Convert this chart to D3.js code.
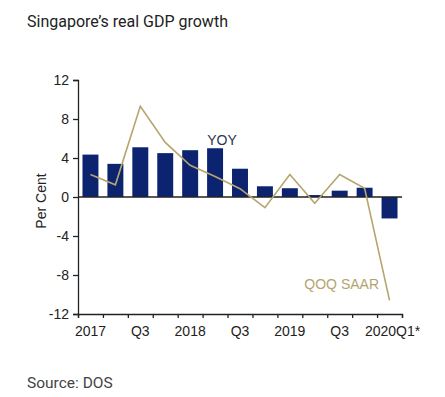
<!DOCTYPE html>
<html>
<head>
<meta charset="utf-8">
<script src="https://cdn.jsdelivr.net/npm/d3@7"></script>
<style>
  body { margin: 0; background: #fff; }
  svg { display: block; }
</style>
</head>
<body>
<div id="wrapper"></div>
<script>
// quarters 2017Q1 .. 2020Q1
const quarters = ["2017Q1","2017Q2","2017Q3","2017Q4","2018Q1","2018Q2","2018Q3","2018Q4","2019Q1","2019Q2","2019Q3","2019Q4","2020Q1"]
const tickLabels = ["2017","","Q3","","2018","","Q3","","2019","","Q3","","2020Q1*"]
const yoy = [4.35, 3.4, 5.1, 4.5, 4.8, 5.0, 2.9, 1.1, 0.9, 0.2, 0.65, 0.95, -2.2]
const qoqSaar = [2.3, 1.25, 9.3, 5.6, 3.25, 2.1, 0.85, -1.1, 2.3, -0.65, 2.3, 0.9, -10.6]
const yTicks = [-12, -8, -4, 0, 4, 8, 12]

const dimensions = {
  width: 445,
  height: 397,
  margin: { top: 80, right: 43, bottom: 83, left: 78 }
}
dimensions.boundedWidth = dimensions.width - dimensions.margin.left - dimensions.margin.right
dimensions.boundedHeight = dimensions.height - dimensions.margin.top - dimensions.margin.bottom

const wrapper = d3.select("#wrapper")
  .append("svg")
  .attr("width", dimensions.width)
  .attr("height", dimensions.height)

wrapper.append("text")
  .attr("x", 27)
  .attr("y", 27)
  .style("font-family", "Roboto, sans-serif")
  .style("font-size", "16px")
  .attr("fill", "#222")
  .text("Singapore\u2019s real GDP growth")

wrapper.append("text")
  .attr("x", 27)
  .attr("y", 388)
  .style("font-family", "Roboto, sans-serif")
  .style("font-size", "15.5px")
  .attr("fill", "#444")
  .text("Source: DOS")

const bounds = wrapper.append("g")
  .attr("transform", `translate(${dimensions.margin.left},${dimensions.margin.top})`)

const xScale = d3.scaleBand()
  .domain(quarters)
  .range([0, dimensions.boundedWidth])
  .paddingInner(0.36)
  .paddingOuter(0.18)

const xPoint = d => xScale(d) + xScale.bandwidth() / 2

const yScale = d3.scaleLinear()
  .domain([-12, 12])
  .range([dimensions.boundedHeight, 0])

// bars
bounds.selectAll(".bar").data(yoy)
  .enter().append("rect")
  .attr("class", "bar")
  .attr("x", (d, i) => xScale(quarters[i]))
  .attr("width", xScale.bandwidth())
  .attr("y", d => yScale(Math.max(0, d)))
  .attr("height", d => Math.abs(yScale(d) - yScale(0)))
  .attr("fill", "#0c2470")

// zero line
bounds.append("line")
  .attr("x1", 0)
  .attr("x2", dimensions.boundedWidth)
  .attr("y1", yScale(0))
  .attr("y2", yScale(0))
  .attr("stroke", "#222")
  .attr("stroke-width", 1.3)

// line
const lineGen = d3.line()
  .x((d, i) => xPoint(quarters[i]))
  .y(d => yScale(d))

bounds.append("path")
  .datum(qoqSaar)
  .attr("d", lineGen)
  .attr("fill", "none")
  .attr("stroke", "#b6a56f")
  .attr("stroke-width", 1.6)

// axes
const yAxis = d3.axisLeft(yScale)
  .tickValues(yTicks)
  .tickSize(5)
  .tickFormat(d => String(d))

const yAxisG = bounds.append("g").call(yAxis)

const xAxis = d3.axisBottom(d3.scaleLinear().domain([0, quarters.length]).range([0, dimensions.boundedWidth]))
  .tickValues(d3.range(quarters.length + 1))
  .tickSize(4)
  .tickFormat("")

const xAxisG = bounds.append("g")
  .attr("transform", `translate(0,${dimensions.boundedHeight})`)
  .call(xAxis)

const xLabels = bounds.append("g")
  .selectAll("text").data(tickLabels)
  .enter().append("text")
  .attr("x", (d, i) => xPoint(quarters[i]) + (i == quarters.length - 1 ? 3 : 0))
  .attr("y", dimensions.boundedHeight + 22)
  .attr("text-anchor", "middle")
  .text(d => d)

bounds.selectAll(".domain, .tick line")
  .attr("stroke", "#222")
  .attr("stroke-width", 1.3)

bounds.selectAll("text")
  .style("font-family", "'Liberation Sans', Arial, sans-serif")
  .style("font-size", "14px")
  .attr("fill", "#222")

yAxisG.selectAll(".tick text").attr("x", -9)

// y axis title
wrapper.append("text")
  .attr("transform", `translate(46,${dimensions.margin.top + yScale(0) + 4}) rotate(-90)`)
  .attr("text-anchor", "middle")
  .style("font-family", "'Liberation Sans', Arial, sans-serif")
  .style("font-size", "14px")
  .attr("fill", "#222")
  .text("Per Cent")

// series labels
bounds.append("text")
  .attr("x", xPoint("2018Q2") + 7)
  .attr("y", yScale(5.3))
  .attr("text-anchor", "middle")
  .style("font-family", "'Liberation Sans', Arial, sans-serif")
  .style("font-size", "14px")
  .attr("fill", "#2b3450")
  .text("YOY")

bounds.append("text")
  .attr("x", xPoint("2019Q3") + 2)
  .attr("y", yScale(-9.4))
  .attr("text-anchor", "middle")
  .style("font-family", "'Liberation Sans', Arial, sans-serif")
  .style("font-size", "14px")
  .attr("fill", "#b3a46f")
  .text("QOQ SAAR")
</script>
</body>
</html>
